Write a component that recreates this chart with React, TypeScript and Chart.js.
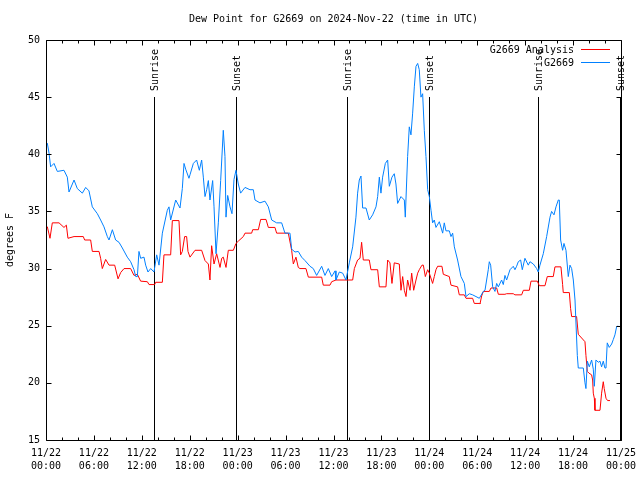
import { useEffect, useRef } from "react";
import { Chart, registerables } from "chart.js";

Chart.register(...registerables);

const FONT = "'DejaVu Sans Mono', 'Liberation Mono', monospace";

// hours since 2024-11-22 00:00 UTC
const tickHours = [0, 6, 12, 18, 24, 30, 36, 42, 48, 54, 60, 66, 72];
const tickDates = ["11/22", "11/22", "11/22", "11/22", "11/23", "11/23", "11/23", "11/23", "11/24", "11/24", "11/24", "11/24", "11/25"];
const tickTimes = ["00:00", "06:00", "12:00", "18:00", "00:00", "06:00", "12:00", "18:00", "00:00", "06:00", "12:00", "18:00", "00:00"];
const yTicks = [15, 20, 25, 30, 35, 40, 45, 50];

const eventHours = [13.58, 23.85, 37.63, 47.9, 61.65, 71.9];
const eventLabels = ["Sunrise", "Sunset", "Sunrise", "Sunset", "Sunrise", "Sunset"];
const eventTop = 45;

const titleText = "Dew Point for G2669 on 2024-Nov-22 (time in UTC)";
const yTitle = "degrees F";
const seriesNames = ["G2669 Analysis", "G2669"];
const seriesColors = ["#ff0000", "#0080ff"];

const analysisHours = [
  0, 0.17, 0.5, 0.79, 1.63, 2.25, 2.55, 2.75, 3.51, 4.67,
  4.84, 5.59, 5.8, 6.64, 6.84, 7.05, 7.47, 7.89, 8.6, 9.02,
  9.35, 9.77, 10.6, 11.02, 11.44, 11.85, 12.69, 12.9, 13.61, 13.73,
  14.57, 14.77, 15.61, 15.82, 16.65, 16.86, 17.07, 17.36, 17.61, 17.78,
  18.03, 18.66, 19.49, 19.91, 20.33, 20.53, 20.74, 21.04, 21.37, 21.79,
  22.0, 22.2, 22.54, 22.83, 23.46, 23.79, 24.08, 24.71, 24.92, 25.75,
  25.88, 26.59, 26.88, 27.55, 27.84, 28.67, 28.88, 30.34, 30.76, 30.97,
  31.3, 31.59, 31.8, 32.55, 32.85, 34.52, 34.72, 35.56, 35.77,
  36.31, 38.4, 38.61, 39.02, 39.32, 39.52, 39.73, 40.48, 40.69, 41.53,
  41.74, 42.57, 42.78, 43.07, 43.32, 43.61, 44.24, 44.45, 44.66, 44.87,
  45.08, 45.28, 45.58, 45.79, 46.04, 46.33, 46.54, 46.74, 47.08, 47.25,
  47.5, 47.79, 48.0, 48.41, 48.62, 48.83, 49.04, 49.58, 49.75, 50.5,
  50.71, 51.54, 51.75, 52.38, 52.59, 53.42, 53.63, 54.26,
  54.34, 54.55, 54.76, 55.51, 55.72, 56.43, 56.64, 57.47, 57.68, 58.51,
  58.72, 59.56, 59.77, 60.52, 60.73, 61.52, 61.77, 62.48, 62.77, 63.52,
  63.73, 64.48, 64.69, 64.77, 65.53, 65.69, 65.82, 66.44, 66.65, 67.49,
  67.61, 67.78, 67.99, 68.32, 68.45, 68.53, 68.66, 68.74, 69.37, 69.57,
  69.78, 69.9, 70.12, 70.32, 70.62,
];
const analysisValues = [
  33.65, 33.65, 32.65, 34.0, 34.0, 33.6, 33.8, 32.65, 32.8, 32.8,
  32.5, 32.5, 31.5, 31.5, 30.9, 30.0, 30.8, 30.3, 30.3, 29.1,
  29.65, 30.0, 30.0, 29.4, 29.5, 28.9, 28.85, 28.6, 28.6, 28.8,
  28.8, 31.2, 31.2, 34.2, 34.2, 31.2, 31.5, 32.8, 32.8, 31.5,
  31.0, 31.6, 31.6, 30.7, 30.4, 29.0, 32.0, 30.4, 31.3, 30.1,
  30.9, 31.0, 30.1, 31.6, 31.6, 32.2, 32.4, 32.8, 33.1, 33.1,
  33.4, 33.4, 34.3, 34.3, 33.6, 33.6, 33.1, 33.1, 31.6, 30.4,
  31.0, 30.1, 30.0, 30.0, 29.25, 29.25, 28.55, 28.55, 28.85,
  29.0, 29.0, 30.0, 30.75, 30.9, 32.3, 30.75, 30.75, 29.9, 29.9,
  28.4, 28.4, 30.75, 30.5, 28.7, 30.5, 30.4, 28.1, 29.3, 28.1,
  27.55, 29.0, 28.1, 29.6, 28.1, 29.0, 29.6, 29.9, 30.3, 30.3,
  29.3, 29.9, 29.6, 28.7, 29.3, 29.9, 30.2, 30.2, 29.5, 29.3,
  28.55, 28.4, 27.7, 27.7, 27.4, 27.4, 26.95, 26.95,
  26.9, 27.6, 28.0, 28.0, 28.3, 28.3, 27.75, 27.75, 27.8, 27.8,
  27.7, 27.7, 28.1, 28.1, 28.9, 28.9, 28.5, 28.5, 29.3, 29.3,
  30.15, 30.15, 28.6, 27.9, 27.9, 26.5, 25.8, 25.8, 24.25, 23.6,
  22.4, 21.0, 20.85, 20.7, 20.25, 19.1, 18.65, 17.6, 17.6, 19.1,
  20.1, 19.5, 18.65, 18.45, 18.45,
];

const stationHours = [
  0, 0.17, 0.38, 0.58, 1.0, 1.42, 2.25, 2.67, 2.88, 3.51,
  3.92, 4.55, 4.97, 5.38, 5.8, 6.43, 6.84, 7.26, 7.68, 7.89,
  8.31, 8.72, 9.14, 9.56, 10.18, 10.6, 11.02, 11.23, 11.44, 11.64,
  11.85, 12.27, 12.48, 12.77, 13.11, 13.52, 13.86, 14.15, 14.57, 15.19,
  15.4, 15.61, 16.24, 16.78, 17.07, 17.28, 17.49, 17.9,
  18.03, 18.45, 18.86, 19.2, 19.49, 19.7, 19.91, 20.12, 20.33, 20.53,
  20.87, 21.04, 21.29, 21.58, 21.87, 22.2, 22.41, 22.54, 22.75, 23.04,
  23.29, 23.54, 23.79, 24.08, 24.37, 24.92, 25.54, 25.96, 26.17, 26.79,
  27.42, 27.84, 28.26, 28.88, 29.51, 29.92, 30.55, 30.76, 31.18, 31.59,
  32.01, 32.43, 33.06, 33.47, 33.89, 34.52, 34.93, 35.35, 35.77, 36.19,
  36.31, 36.73, 37.15, 37.56, 37.98, 38.4, 38.81, 39.02, 39.23, 39.44,
  39.65, 40.07, 40.48, 40.9, 41.32, 41.53, 41.74, 41.94, 42.15, 42.49,
  42.78, 42.99, 43.32, 43.61, 43.82, 44.03, 44.45, 44.87, 44.99, 45.28,
  45.49, 45.7, 45.91, 46.12, 46.33, 46.54, 46.74, 46.95, 47.16, 47.37,
  47.58, 47.79, 48.0, 48.21, 48.41, 48.62, 48.83, 49.25, 49.67, 49.87,
  50.08, 50.5, 50.71, 50.92, 51.13, 51.54, 51.96, 52.38, 52.59, 53.01,
  53.42, 53.84, 54.26,
  54.34, 54.76, 54.97, 55.38, 55.51, 55.68, 55.93, 56.22, 56.43, 56.64,
  57.05, 57.26, 57.47, 57.68, 58.1, 58.51, 58.72, 58.93, 59.14, 59.43,
  59.64, 59.97, 60.39, 60.6, 61.02, 61.44, 61.64, 61.85, 62.27, 62.69,
  63.11, 63.31, 63.61, 63.86, 64.15, 64.27, 64.44, 64.69, 64.86, 65.11,
  65.4, 65.61, 65.82, 66.03, 66.24, 66.53, 66.65, 67.28, 67.49, 67.61,
  67.78, 68.03, 68.32, 68.53, 68.66, 68.86, 69.16, 69.37, 69.57, 69.78,
  69.99, 70.12, 70.28, 70.53, 70.83, 71.04, 71.24, 71.45, 71.58,
];
const stationValues = [
  40.8, 40.96, 40.1, 38.9, 39.2, 38.5, 38.6, 38.0, 36.7, 37.75,
  37.0, 36.6, 37.1, 36.8, 35.4, 34.8, 34.25, 33.65, 32.8, 32.5,
  33.4, 32.5, 32.3, 31.8, 31.0, 30.6, 29.9, 29.3, 29.3, 31.5,
  30.9, 31.0, 30.3, 29.7, 30.0, 29.7, 31.2, 30.3, 33.1, 35.1,
  35.4, 34.25, 36.0, 35.3, 37.0, 39.2, 38.7, 37.9,
  38.2, 39.2, 39.5, 38.6, 39.5, 38.0, 36.3, 36.9, 37.7, 36.0,
  37.7, 35.4, 31.3, 34.0, 37.7, 42.1, 39.8, 34.5, 36.4, 35.4,
  34.8, 37.8, 38.6, 37.4, 36.6, 37.1, 36.9, 36.9, 36.0, 35.75,
  35.9, 35.4, 34.25, 34.0, 34.0, 33.1, 33.1, 31.7, 31.45, 31.5,
  31.0, 30.7, 30.2, 30.0, 29.4, 30.2, 29.4, 30.0, 29.3, 29.8,
  29.0, 29.7, 29.6, 29.0, 30.5, 31.9, 34.5, 36.6, 37.75, 38.1,
  35.3, 35.3, 34.25, 34.7, 35.4, 36.3, 38.0, 36.6, 38.0, 39.2,
  39.5, 37.2, 38.0, 38.3, 37.4, 35.7, 36.3, 36.0, 34.5, 39.8,
  42.4, 41.7, 43.6, 45.9, 47.7, 47.95, 47.4, 45.0, 45.3, 42.1,
  39.8, 36.9, 36.3, 35.1, 34.0, 34.25, 33.6, 34.1, 33.1, 34.0,
  33.3, 33.3, 32.8, 33.1, 31.9, 30.75, 29.3, 28.7, 27.55, 27.8,
  27.7, 27.55, 27.4,
  27.4, 28.0, 28.1, 29.9, 30.6, 30.3, 28.4, 28.0, 28.7, 28.4,
  29.0, 28.6, 29.4, 29.0, 29.9, 30.2, 29.9, 30.2, 30.6, 30.75,
  29.9, 30.9, 30.3, 30.6, 30.4, 30.0, 29.7, 30.3, 31.3, 32.8,
  34.5, 35.0, 34.7, 35.4, 36.0, 36.0, 32.5, 31.6, 32.2, 31.6,
  29.3, 30.3, 30.0, 29.0, 27.25, 22.4, 21.3, 21.3, 20.0, 19.5,
  21.9, 21.4, 22.0, 21.2, 19.7, 22.0, 21.8, 21.9, 21.4, 21.9,
  21.3, 21.3, 23.5, 23.1, 23.4, 23.8, 24.2, 24.9, 25.0,
];

const toPoints = (xs: number[], ys: number[]) => xs.map((x, i) => ({ x, y: ys[i] }));

const decorPlugin = {
  id: "gnuplotDecor",
  beforeDatasetsDraw(chart: any) {
    const { ctx, chartArea, scales } = chart;
    const xs = scales.x;
    const ys = scales.y;
    ctx.save();
    ctx.strokeStyle = "#000";
    ctx.lineWidth = 1;
    ctx.fillStyle = "#000";
    ctx.font = `10px ${FONT}`;
    const yTop = Math.round(ys.getPixelForValue(eventTop));
    eventHours.forEach((h, i) => {
      const x = Math.round(xs.getPixelForValue(h)) + 0.5;
      ctx.beginPath();
      ctx.moveTo(x, yTop);
      ctx.lineTo(x, chartArea.bottom);
      ctx.stroke();
      ctx.save();
      ctx.translate(x + 1, yTop - 6);
      ctx.rotate(-Math.PI / 2);
      ctx.textAlign = "left";
      ctx.textBaseline = "middle";
      ctx.fillText(eventLabels[i], 0, 0);
      ctx.restore();
    });
    ctx.restore();
  },
  afterDraw(chart: any) {
    const { ctx, chartArea, scales } = chart;
    const xs = scales.x;
    const ys = scales.y;
    const L = Math.round(chartArea.left) + 0.5;
    const R = Math.round(chartArea.right) + 0.5;
    const T = Math.round(chartArea.top) + 0.5;
    const B = Math.round(chartArea.bottom) + 0.5;
    ctx.save();
    ctx.strokeStyle = "#000";
    ctx.lineWidth = 1;
    ctx.beginPath();
    ctx.rect(L, T, R - L, B - T);
    yTicks.forEach((v) => {
      const y = Math.round(ys.getPixelForValue(v)) + 0.5;
      ctx.moveTo(L, y);
      ctx.lineTo(L + 5, y);
      ctx.moveTo(R, y);
      ctx.lineTo(R - 5, y);
    });
    for (let h = 0; h <= 72; h += 2) {
      const len = tickHours.includes(h) ? 5 : 3;
      const x = Math.round(xs.getPixelForValue(h)) + 0.5;
      ctx.moveTo(x, B);
      ctx.lineTo(x, B - len);
      ctx.moveTo(x, T);
      ctx.lineTo(x, T + len);
    }
    ctx.stroke();

    ctx.fillStyle = "#000";
    ctx.font = `10px ${FONT}`;
    ctx.textAlign = "center";
    ctx.textBaseline = "middle";
    ctx.fillText(titleText, (chartArea.left + chartArea.right) / 2, 19);
    ctx.save();
    ctx.translate(10, (chartArea.top + chartArea.bottom) / 2);
    ctx.rotate(-Math.PI / 2);
    ctx.fillText(yTitle, 0, 0);
    ctx.restore();
    seriesNames.forEach((name, i) => {
      const y = 50 + i * 13;
      ctx.textAlign = "right";
      ctx.fillText(name, 574, y);
      ctx.strokeStyle = seriesColors[i];
      ctx.beginPath();
      ctx.moveTo(581, y - 0.5);
      ctx.lineTo(610, y - 0.5);
      ctx.stroke();
    });
    ctx.restore();
  },
};

export default function App() {
  const ref = useRef<HTMLCanvasElement>(null);
  useEffect(() => {
    const chart = new Chart(ref.current!, {
      type: "line",
      data: {
        datasets: [
          {
            label: seriesNames[0],
            data: toPoints(analysisHours, analysisValues),
            borderColor: seriesColors[0],
            borderWidth: 1,
            pointRadius: 0,
            tension: 0,
            fill: false,
            order: 2,
          },
          {
            label: seriesNames[1],
            data: toPoints(stationHours, stationValues),
            borderColor: seriesColors[1],
            borderWidth: 1,
            pointRadius: 0,
            tension: 0,
            fill: false,
            order: 1,
          },
        ],
      },
      options: {
        responsive: false,
        animation: false,
        events: [],
        layout: { padding: { top: 40, right: 19, left: 0, bottom: 0 } },
        plugins: {
          legend: { display: false },
          title: { display: false },
          tooltip: { enabled: false },
        },
        scales: {
          x: {
            type: "linear",
            min: 0,
            max: 72,
            afterBuildTicks: (s: any) => {
              s.ticks = tickHours.map((v) => ({ value: v }));
            },
            afterFit: (s: any) => {
              s.height = 40;
              s.paddingLeft = 0;
              s.paddingRight = 0;
            },
            ticks: {
              autoSkip: false,
              maxRotation: 0,
              minRotation: 0,
              padding: 7,
              color: "#000",
              font: { family: FONT, size: 10, lineHeight: 1.3 },
              callback: (v: any) => {
                const i = tickHours.indexOf(Number(v));
                return i >= 0 ? [tickDates[i], tickTimes[i]] : "";
              },
            },
            grid: { display: false, drawTicks: false },
            border: { display: false },
          },
          y: {
            type: "linear",
            min: 15,
            max: 50,
            afterFit: (s: any) => {
              s.width = 46;
              s.paddingTop = 0;
              s.paddingBottom = 0;
            },
            ticks: {
              stepSize: 5,
              padding: 6,
              color: "#000",
              font: { family: FONT, size: 10 },
            },
            grid: { display: false, drawTicks: false },
            border: { display: false },
          },
        },
      },
      plugins: [decorPlugin],
    } as any);
    return () => chart.destroy();
  }, []);
  return (
    <div style={{ position: "fixed", left: 0, top: 0, width: 640, height: 480, background: "#fff" }}>
      <canvas ref={ref} width={640} height={480} style={{ display: "block" }} />
    </div>
  );
}
